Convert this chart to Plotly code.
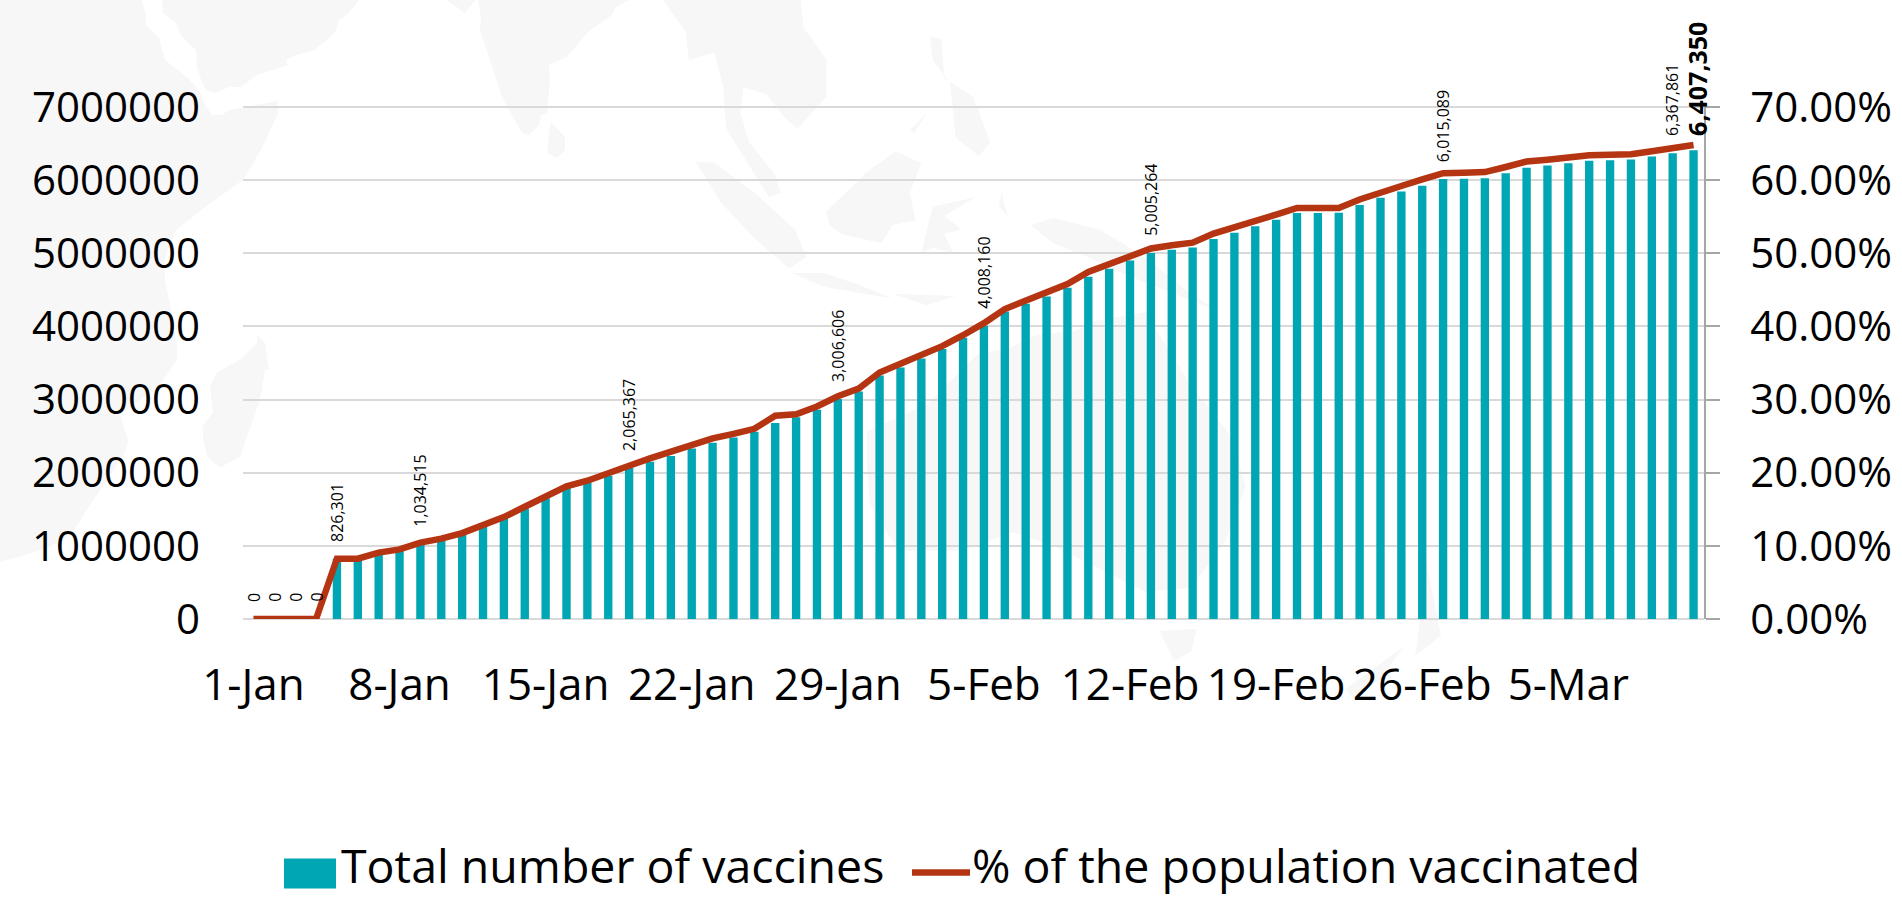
import plotly.graph_objects as go
import pandas as pd

# ---------- data ----------
categories = [d.strftime("%-d-%b") for d in pd.date_range("2021-01-01", periods=70)]
tick_labels = categories[::7]

total_vaccines = [
    0, 0, 0, 0, 826301, 826301, 895000, 940000, 1034515, 1085000,
    1160000, 1265000, 1375000, 1510000, 1650000, 1790000, 1870000, 1960000, 2065367, 2150000,
    2230000, 2330000, 2410000, 2480000, 2560000, 2680000, 2760000, 2860000, 3006606, 3110000,
    3330000, 3440000, 3560000, 3690000, 3845000, 4008160, 4205000, 4310000, 4410000, 4530000,
    4680000, 4790000, 4900000, 5005264, 5050000, 5080000, 5195000, 5280000, 5370000, 5460000,
    5550000, 5550000, 5555000, 5660000, 5760000, 5845000, 5925000, 6015089, 6018000, 6027000,
    6095000, 6170000, 6200000, 6232000, 6264000, 6273000, 6282000, 6323000, 6367861, 6407350,
]

pct_vaccinated = [
    0, 0, 0, 0, 0.0825, 0.0825, 0.0907, 0.0952, 0.1045, 0.1098,
    0.1175, 0.1285, 0.1394, 0.1535, 0.1677, 0.1813, 0.1890, 0.1982, 0.2095, 0.2195,
    0.2280, 0.2380, 0.2470, 0.2530, 0.2600, 0.2780, 0.2800, 0.2905, 0.3045, 0.3150,
    0.3370, 0.3490, 0.3610, 0.3730, 0.3880, 0.4045, 0.4238, 0.4355, 0.4465, 0.4580,
    0.4745, 0.4845, 0.4965, 0.5065, 0.5110, 0.5145, 0.5270, 0.5350, 0.5435, 0.5530,
    0.5620, 0.5620, 0.5620, 0.5735, 0.5835, 0.5920, 0.6010, 0.6095, 0.6100, 0.6110,
    0.6180, 0.6255, 0.6280, 0.6315, 0.6340, 0.6346, 0.6355, 0.6395, 0.6440, 0.6480,
]

labelled_days = [0, 1, 2, 3, 4, 8, 18, 28, 35, 43, 57, 68]
bold_labelled_day = 69
left_ticks = [0, 1000000, 2000000, 3000000, 4000000, 5000000, 6000000, 7000000]
right_ticks = [0, .1, .2, .3, .4, .5, .6, .7]

BAR_NAME = "Total number of vaccines"
LINE_NAME = "% of the population vaccinated"

# ---------- style ----------
TEAL = "#00A6B4"
RUST = "#B53513"
GRID = "#D9D9D9"
AXIS = "#A6A6A6"
LAND = "#F7F7F7"
FONT = "Open Sans"
W, H = 1902, 898
# the plot area runs 2 px above the 7000000 line: plotly drops a gridline within 1 px of the edge
L, R, T, B = 243.0, 1704.0, 105.0, 619.3
Y_TOP = 7027330
Y2_TOP = 0.702733


def px(x, y):
    return (x - L) / (R - L), (B - y) / (B - T)


def z12(pts):
    return [(640 + x / 1.742, y / 2.178) for x, y in pts]


# faint world map behind the chart (decoration, image pixel outlines)
MAP = [
    [(141,0),(146,13),(146,25),(159,38),(165,60),(188,78),(200,92),(204,103),(212,115),(222,115),(229,110),
     (277,101),(278,113),(261,150),(243,180),(204,208),(176,230),(165,257),(165,280),(170,305),(177,345),
     (177,360),(160,385),(120,415),(128,440),(128,443),(123,457),(105,483),(87,510),(73,533),(50,547),
     (20,557),(0,562),(0,0)],
    [(162,0),(163,13),(175,22),(182,37),(196,50),(197,67),(200,77),(206,90),(216,93),(229,87),(241,87),
     (257,75),(288,65),(286,60),(296,55),(314,50),(327,40),(335,32),(339,20),(349,13),(359,0)],
    [(257,335),(265,343),(269,370),(265,370),(260,400),(240,457),(220,468),(207,457),(204,443),(202,427),
     (213,413),(210,387),(217,373),(243,358),(257,343)],
    [(478,0),(481,17),(480,30),(490,60),(502,97),(522,133),(529,135),(539,125),(541,115),(547,113),(550,80),
     (549,65),(567,57),(588,32),(612,15),(616,7),(629,0)],
    [(447,0),(465,13),(475,0)],
    [(551,122),(565,137),(565,150),(557,158),(547,153),(549,133)],
    z12([(40,0),(80,70),(85,130),(130,115),(145,190),(150,280),(180,340),(225,430),(245,420),(235,380),
         (190,310),(175,245),(180,190),(220,205),(255,260),(275,280),(325,210),(325,130),(285,60),(280,0)]),
    z12([(97,352),(130,355),(200,420),(270,500),(290,560),(260,585),(200,520),(140,440)]),
    z12([(325,460),(395,375),(445,330),(490,355),(470,420),(480,480),(440,490),(420,530),(350,510),(330,490)]),
    z12([(265,595),(320,595),(380,620),(440,650),(390,640),(320,625)]),
    z12([(440,640),(550,645),(500,665)]),
    z12([(490,550),(510,450),(585,430),(530,470),(560,500),(530,510),(545,550),(510,540)]),
    z12([(505,80),(525,85),(530,170),(580,210),(610,310),(590,340),(550,300),(540,180),(510,130)]),
    z12([(470,285),(500,245),(478,290)]),
    z12([(630,420),(640,470),(625,450)]),
    z12([(680,490),(720,475),(800,500),(880,560),(960,640),(1010,680),(930,640),(850,600),(780,560),(720,530)]),
    z12([(395,940),(500,880),(590,770),(640,760),(690,730),(760,720),(790,700),(880,680),(890,700),(960,840),
         (1030,950),(1055,1060),(1020,1180),(960,1280),(880,1290),(800,1240),(720,1190),(650,1160),(560,1200),
         (450,1200),(400,1100),(395,1000)]),
    z12([(905,1375),(970,1370),(960,1420),(930,1440)]),
    z12([(1370,1225),(1395,1385),(1350,1430),(1355,1390)]),
    z12([(1330,1410),(1290,1480),(1240,1520),(1230,1500)]),
]

shapes = []
for poly in MAP:
    pts = [px(x, y) for x, y in poly]
    path = "M" + "L".join(f"{a:.4f},{b:.4f}" for a, b in pts) + "Z"
    shapes.append(dict(type="path", xref="paper", yref="paper", path=path,
                       fillcolor=LAND, line_width=0, layer="below"))

# hand-made legend (large swatches)
sx0, sy0 = px(284, 859)
sx1, sy1 = px(336, 889)
shapes.append(dict(type="rect", xref="paper", yref="paper", x0=sx0, y0=sy0, x1=sx1, y1=sy1,
                   fillcolor=TEAL, line_width=0))
lx0, ly = px(912, 873)
lx1, _ = px(970, 873)
shapes.append(dict(type="line", xref="paper", yref="paper", x0=lx0, y0=ly, x1=lx1, y1=ly,
                   line=dict(color=RUST, width=6.5)))

annotations = []
for i in labelled_days:
    annotations.append(dict(x=categories[i], y=total_vaccines[i], xref="x", yref="y",
                            text=f"{total_vaccines[i]:,}", textangle=-90, showarrow=False,
                            yanchor="bottom", yshift=15, font=dict(family=FONT, size=16, color="#000000")))
annotations.append(dict(x=categories[bold_labelled_day], y=total_vaccines[bold_labelled_day], xref="x", yref="y",
                        text=f"<b>{total_vaccines[bold_labelled_day]:,}</b>", textangle=-90, showarrow=False,
                        yanchor="bottom", yshift=12, xshift=4, font=dict(family=FONT, size=25, color="#000000")))
for text, xp in [(BAR_NAME, 339), (LINE_NAME, 970)]:
    ax, ay = px(xp, 865)
    annotations.append(dict(x=ax, y=ay, xref="paper", yref="paper", text=text, showarrow=False,
                            xanchor="left", yanchor="middle", font=dict(family=FONT, size=46.5, color="#000000")))

fig = go.Figure()
fig.add_bar(x=categories, y=total_vaccines, name=BAR_NAME, marker=dict(color=TEAL, line_width=0),
            yaxis="y", hoverinfo="x+y")
fig.add_scatter(x=categories, y=pct_vaccinated, name=LINE_NAME, mode="lines", yaxis="y2",
                line=dict(color=RUST, width=6.5, shape="linear"), hoverinfo="x+y")

fig.update_layout(
    width=W, height=H, autosize=False,
    margin=dict(l=L, r=W - R, t=T, b=H - B, pad=0, autoexpand=False),
    paper_bgcolor="#FFFFFF", plot_bgcolor="rgba(0,0,0,0)",
    showlegend=False, bargap=0.6,
    font=dict(family=FONT, size=42, color="#000000"),
    shapes=shapes, annotations=annotations,
    xaxis=dict(type="category", categoryorder="array", categoryarray=categories,
               tickmode="array", tickvals=tick_labels, ticktext=tick_labels, tickfont=dict(size=44),
               showgrid=False, ticks="", ticklabelstandoff=36, range=[-0.5, 69.5],
               showline=False, zeroline=False, tickangle=0, automargin=False),
    yaxis=dict(range=[0, Y_TOP], tickvals=left_ticks, tickformat="d", showgrid=True,
               gridcolor=GRID, gridwidth=1.5, zeroline=True, zerolinecolor=GRID, zerolinewidth=1.5,
               ticks="", ticklabelstandoff=42, showline=False, automargin=False),
    yaxis2=dict(range=[0, Y2_TOP], tickvals=right_ticks, tickformat=".2%", overlaying="y", side="right",
                showgrid=False, zeroline=False, showline=True, linecolor=AXIS, linewidth=1.5,
                ticks="outside", ticklen=14, tickcolor=AXIS, tickwidth=1.5, ticklabelstandoff=22, automargin=False),
)

fig.write_html("out.html", post_script="document.body.style.margin='0';",
               config={"responsive": False, "displayModeBar": False})
